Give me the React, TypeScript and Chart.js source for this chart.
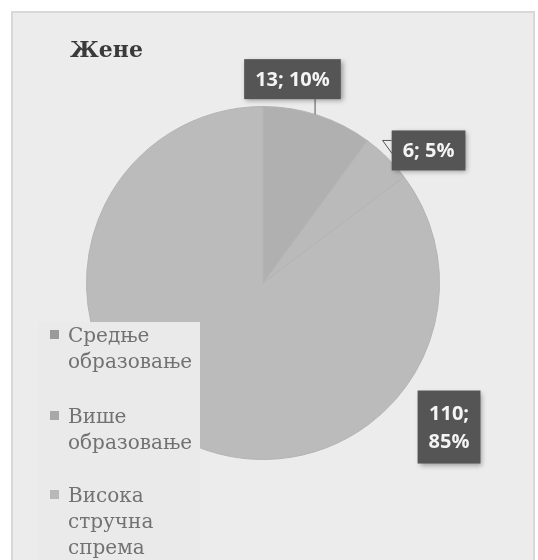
import React, { useEffect, useRef } from "react";
import { Chart, registerables } from "chart.js";

Chart.register(...registerables);

const title = "Жене";
const categories = ["Средње образовање", "Више образовање", "Висока стручна спрема"];
const legendLines = [["Средње", "образовање"], ["Више", "образовање"], ["Висока", "стручна", "спрема"]];
const values = [13, 6, 110];
const percents = [10, 5, 85];
const sliceColors = ["#b0b0b0", "#bababa", "#bbbbbb"];
const markerColors = ["#9a9a9a", "#a8a8a8", "#b8b8b8"];

const decorPlugin = {
  id: "decor",
  beforeDraw(chart: any) {
    const { ctx, width, height } = chart;
    ctx.save();
    ctx.fillStyle = "#ffffff";
    ctx.fillRect(0, 0, width, height);
    ctx.fillStyle = "#ececec";
    ctx.fillRect(12, 12, width - 16, height - 12);
    ctx.strokeStyle = "#d8d8d8";
    ctx.lineWidth = 2;
    ctx.strokeRect(12, 12, width - 16, height - 8);
    ctx.fillStyle = "#3a3a3a";
    ctx.font = "bold 22px 'DejaVu Serif'";
    ctx.textBaseline = "alphabetic";
    ctx.fillText(title, 70, 57);
    ctx.restore();
  },
  afterDraw(chart: any) {
    const { ctx } = chart;
    const meta = chart.getDatasetMeta(0);
    const arc0 = meta.data[0];
    const cx = arc0.x, cy = arc0.y, r = arc0.outerRadius;
    // label layout (relative to pie centre, in radius units)
    const pos = [[0.167, -1.155], [0.938, -0.751], [1.054, 0.816]];
    ctx.save();
    // leader lines
    ctx.strokeStyle = "#555";
    ctx.lineWidth = 1;
    meta.data.forEach((a: any, i: number) => {
      if (i > 1) return;
      const mid = (a.startAngle + a.endAngle) / 2;
      const ax = cx + Math.cos(mid) * r;
      const ay = cy + Math.sin(mid) * r;
      const bx = cx + pos[i][0] * r;
      const by = cy + pos[i][1] * r;
      ctx.beginPath();
      if (i === 0) {
        const lx = cx + 0.295 * r;
        ctx.moveTo(lx, by + 20);
        ctx.lineTo(lx, cy - Math.sqrt(r * r - (lx - cx) * (lx - cx)));
      } else {
        ctx.moveTo(bx - 37, by - 10);
        ctx.lineTo(bx - 46, by - 10);
        ctx.lineTo(ax + 5, ay - 4);
      }
      ctx.stroke();
    });
    // label boxes
    ctx.font = "bold 20px 'Open Sans'";
    ctx.textAlign = "center";
    ctx.textBaseline = "middle";
    values.forEach((v, i) => {
      const lines = i === 2 ? [v + ";", percents[i] + "%"] : [v + "; " + percents[i] + "%"];
      const n = lines.length;
      const w = Math.max(...lines.map((l) => ctx.measureText(l).width)) + 22;
      const h = n * 26 + 14 + (n - 1) * 7;
      const bx = cx + pos[i][0] * r;
      const by = cy + pos[i][1] * r;
      ctx.save();
      ctx.shadowColor = "rgba(0,0,0,0.35)";
      ctx.shadowBlur = 5;
      ctx.shadowOffsetX = 2;
      ctx.shadowOffsetY = 2;
      ctx.fillStyle = "#555555";
      ctx.fillRect(bx - w / 2, by - h / 2, w, h);
      ctx.restore();
      ctx.fillStyle = "#f4f4f4";
      lines.forEach((l, j) => {
        ctx.fillText(l, bx, by - ((n - 1) * 28) / 2 + j * 28 + 1);
      });
    });
    // legend
    ctx.fillStyle = "#eaeaea";
    ctx.fillRect(38, 322, 162, 240);
    ctx.textAlign = "left";
    ctx.textBaseline = "alphabetic";
    ctx.font = "20px 'DejaVu Serif'";
    const starts = [342, 423, 502];
    categories.forEach((c, i) => {
      ctx.fillStyle = markerColors[i];
      ctx.fillRect(50, starts[i] - 12, 9, 9);
      ctx.fillStyle = "#727272";
      legendLines[i].forEach((l, j) => ctx.fillText(l, 68, starts[i] + j * 26));
    });
    ctx.restore();
  },
};

export default function App() {
  const ref = useRef<HTMLCanvasElement>(null);
  useEffect(() => {
    document.body.style.margin = "0";
    const chart = new Chart(ref.current!, {
      type: "pie",
      data: {
        labels: categories,
        datasets: [
          {
            data: values,
            backgroundColor: sliceColors,
            borderColor: "#b4b4b4",
            borderWidth: 1,
          },
        ],
      },
      options: {
        responsive: false,
        animation: false,
        layout: { padding: { top: 106, bottom: 100, left: 86, right: 98 } },
        plugins: { legend: { display: false }, tooltip: { enabled: false } },
      },
      plugins: [decorPlugin],
    });
    return () => chart.destroy();
  }, []);
  return <canvas ref={ref} width={538} height={560} style={{ display: "block" }} />;
}
